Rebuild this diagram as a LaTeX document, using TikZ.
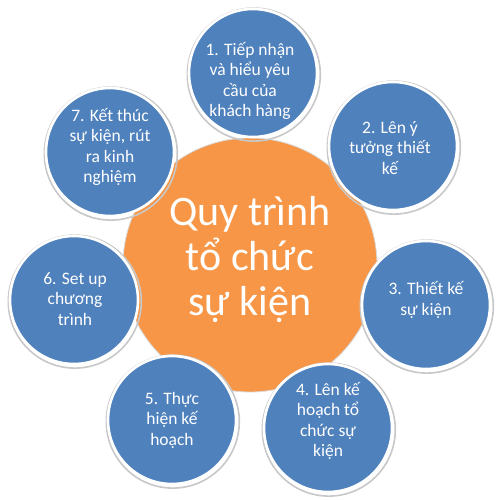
\documentclass[tikz,border=0pt]{standalone}
\usepackage{fontspec}
\setmainfont{Carlito}
\definecolor{stepblue}{HTML}{4F81BD}
\definecolor{hub}{HTML}{F79646}
\definecolor{halo}{HTML}{C8C8C8}
\tikzset{
  bluestep/.style={circle, fill=stepblue, draw=white, line width=2.6pt, minimum size=128pt, inner sep=0pt},
  stephalo/.style={circle, draw=halo, line width=1.6pt, minimum size=133pt, inner sep=0pt},
  steptext/.style={text=white, align=center, font=\fontsize{17.5}{20.5}\selectfont, inner sep=0pt},
  hubtext/.style={text=white, align=center, font=\fontsize{42}{45}\selectfont, inner sep=0pt}
}
\begin{document}
\begin{tikzpicture}[x=1pt,y=-1pt]
\useasboundingbox (0,0) rectangle (500,500);
\fill[white] (0,0) rectangle (500,500);
% hub
\node[circle, fill=hub, draw=halo!70, line width=0.8pt, minimum size=254pt, inner sep=0pt] (hub) at (250,265) {};
% halos
\foreach \n/\x/\y in {h1/253/73, h2/393/146, h3/426/305, h4/328/428, h5/172/420, h6/74/300, h7/110/152}{
  \node[stephalo] (\n) at (\x+0.8,\y+1.6) {};
}
% circles
\node[bluestep] (c1) at (253,73) {};
\node[bluestep] (c2) at (393,146) {};
\node[bluestep] (c3) at (426,305) {};
\node[bluestep] (c4) at (328,428) {};
\node[bluestep] (c5) at (172,420) {};
\node[bluestep] (c6) at (74,300) {};
\node[bluestep] (c7) at (110,152) {};
% texts
\node[steptext] (t1) at (250,81) {1. Tiếp nhận\\và hiểu yêu\\cầu của\\khách hàng};
\node[steptext] (t2) at (390,148) {2. Lên ý\\tưởng thiết\\kế};
\node[steptext] (t3) at (426,300) {3. Thiết kế\\sự kiện};
\node[steptext] (t4) at (328,421) {4. Lên kế\\hoạch tổ\\chức sự\\kiện};
\node[steptext] (t5) at (172,420) {5. Thực\\hiện kế\\hoạch};
\node[steptext] (t6) at (75,299) {6. Set up\\chương\\trình};
\node[steptext] (t7) at (110,147) {7. Kết thúc\\sự kiện, rút\\ra kinh\\nghiệm};
\node[hubtext] (ht) at (250,259) {Quy trình\\tổ chức\\sự kiện};
\end{tikzpicture}
\end{document}
